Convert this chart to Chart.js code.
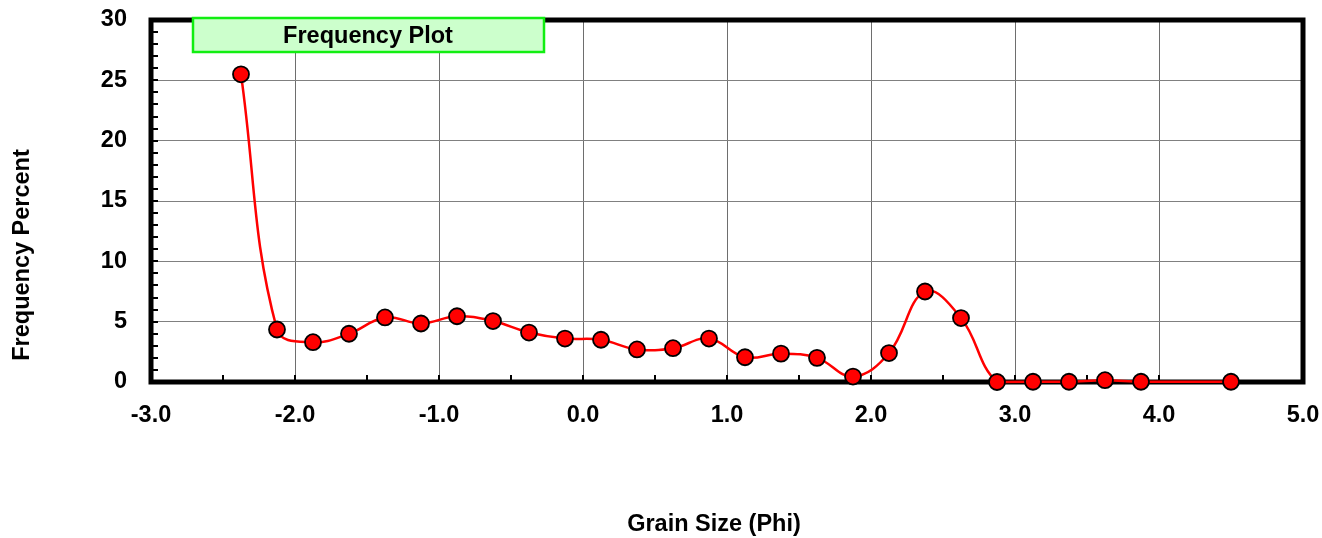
<!DOCTYPE html>
<html>
<head>
<meta charset="utf-8">
<script src="https://cdn.jsdelivr.net/npm/chart.js@4/dist/chart.umd.min.js"></script>
<style>
  html, body { margin: 0; padding: 0; background: #fff; }
  #wrap { width: 1322px; height: 538px; position: relative; }
</style>
</head>
<body>
<div id="wrap"><canvas id="freqChart"></canvas></div>
<script>
// ==========================
// DATA
// ==========================
const grainSize = [-2.375, -2.125, -1.875, -1.625, -1.375, -1.125, -0.875, -0.625, -0.375, -0.125,
                   0.125, 0.375, 0.625, 0.875, 1.125, 1.375, 1.625, 1.875, 2.125, 2.375,
                   2.625, 2.875, 3.125, 3.375, 3.625, 3.875, 4.5];
const frequency = [25.5, 4.35, 3.3, 4.0, 5.35, 4.85, 5.45, 5.05, 4.1, 3.6,
                   3.5, 2.7, 2.8, 3.6, 2.05, 2.35, 2.0, 0.45, 2.4, 7.5,
                   5.3, 0.0, 0.02, 0.02, 0.15, 0.02, 0.02];
const xTicks = [-3, -2, -1, 0, 1, 2, 3, 4, 5];
const yTicks = [0, 5, 10, 15, 20, 25, 30];

const chartTitle = 'Frequency Plot';
const xTitle = 'Grain Size (Phi)';
const yTitle = 'Frequency Percent';

const FONT = '"Liberation Sans", Arial, sans-serif';

// ==========================
// DECOR PLUGIN (frame, minor ticks, titles)
// ==========================
const decor = {
    id: 'decor',
    beforeDatasetsDraw(chart) {
        const { ctx, chartArea: a, scales: { x, y } } = chart;
        ctx.save();
        ctx.strokeStyle = '#000';

        // minor ticks, inside the frame
        ctx.lineWidth = 2;
        ctx.beginPath();
        for (let v = x.min + 0.5; v < x.max; v += 0.5) {
            const px = Math.round(x.getPixelForValue(v));
            ctx.moveTo(px, a.bottom);
            ctx.lineTo(px, a.bottom - 7);
        }
        for (let v = y.min + 1; v < y.max; v += 1) {
            const py = Math.round(y.getPixelForValue(v));
            ctx.moveTo(a.left, py);
            ctx.lineTo(a.left + 7, py);
        }
        ctx.stroke();

        // thick frame
        ctx.lineWidth = 5;
        ctx.strokeRect(a.left, a.top, a.right - a.left, a.bottom - a.top);
        ctx.restore();
    },
    afterDraw(chart) {
        const { ctx } = chart;
        ctx.save();

        // title box
        ctx.fillStyle = '#ccffcc';
        ctx.fillRect(193, 18, 351, 34);
        ctx.strokeStyle = '#11ee11';
        ctx.lineWidth = 2.5;
        ctx.strokeRect(193, 18, 351, 34);
        ctx.fillStyle = '#000';
        ctx.font = 'bold 23.5px ' + FONT;
        ctx.textAlign = 'center';
        ctx.textBaseline = 'middle';
        ctx.fillText(chartTitle, 368, 37);

        // axis titles
        ctx.fillText(xTitle, 714, 525);
        ctx.translate(23, 255);
        ctx.rotate(-Math.PI / 2);
        ctx.fillText(yTitle, 0, 0);
        ctx.restore();
    }
};

// ==========================
// CHART
// ==========================
const tickFont = { family: FONT, size: 23.5, weight: 'bold' };

new Chart(document.getElementById('freqChart'), {
    type: 'line',
    data: {
        datasets: [{
            label: chartTitle,
            data: grainSize.map((g, i) => ({ x: g, y: frequency[i] })),
            borderColor: '#ff0000',
            borderWidth: 2.5,
            tension: 0.4,
            pointRadius: 8,
            pointBackgroundColor: '#ff0000',
            pointBorderColor: '#000',
            pointBorderWidth: 1.8,
            clip: false
        }]
    },
    options: {
        responsive: true,
        maintainAspectRatio: false,
        animation: false,
        layout: { padding: { top: 20, right: 19, left: 0, bottom: 0 } },
        plugins: {
            legend: { display: false },
            title: { display: false },
            tooltip: { enabled: false }
        },
        scales: {
            x: {
                type: 'linear',
                min: -3,
                max: 5,
                afterBuildTicks: s => { s.ticks = xTicks.map(v => ({ value: v })); },
                afterFit: s => { s.height = 156; s.paddingLeft = 0; s.paddingRight = 0; },
                grid: { color: '#6e6e6e', lineWidth: 1, drawTicks: false },
                border: { display: false },
                ticks: {
                    padding: 19,
                    color: '#000',
                    font: tickFont,
                    callback: v => v.toFixed(1)
                }
            },
            y: {
                min: 0,
                max: 30,
                afterBuildTicks: s => { s.ticks = yTicks.map(v => ({ value: v })); },
                afterFit: s => { s.width = 151; s.paddingTop = 0; s.paddingBottom = 0; },
                grid: { color: '#808080', lineWidth: 1, drawTicks: false },
                border: { display: false },
                ticks: {
                    padding: 24,
                    color: '#000',
                    font: tickFont
                }
            }
        }
    },
    plugins: [decor]
});
</script>
</body>
</html>
